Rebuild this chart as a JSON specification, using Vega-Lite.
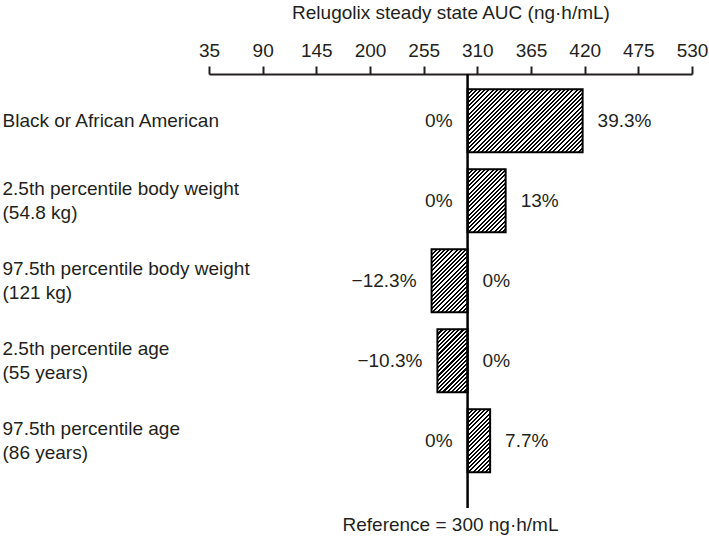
{
"$schema": "https://vega.github.io/schema/vega-lite/v6.json",
"width": 483, "height": 434,
"autosize": {"type": "none"},
"padding": {"left": 209, "top": 74, "right": 17, "bottom": 31},
"config": {"font": "Liberation Sans", "view": {"stroke": null}, "axis": {"grid": false}},
"title": {"text": "Reference = 300 ng·h/mL", "orient": "bottom", "anchor": "middle", "frame": "group", "fontSize": 19, "fontWeight": "normal", "color": "#231f20", "offset": 7},
"layer": [
{
"data": {"values": [
{"k":1,"row":"Black or African American","low":300,"high":417.9,"lowLabel":"0%","highLabel":"39.3%"},
{"k":2,"row":"2.5th percentile body weight|(54.8 kg)","low":300,"high":339,"lowLabel":"0%","highLabel":"13%"},
{"k":3,"row":"97.5th percentile body weight|(121 kg)","low":263.1,"high":300,"lowLabel":"−12.3%","highLabel":"0%"},
{"k":4,"row":"2.5th percentile age|(55 years)","low":269.1,"high":300,"lowLabel":"−10.3%","highLabel":"0%"},
{"k":5,"row":"97.5th percentile age|(86 years)","low":300,"high":323.1,"lowLabel":"0%","highLabel":"7.7%"}
]},
"encoding": {
"y": {"field":"row","type":"nominal","sort":null,"title":null,
"scale":{"paddingInner":0.2125,"paddingOuter":0.31875,"align":0.3},
"axis":{"orient":"left","domain":false,"ticks":false,"tickSize":0,"labelAlign":"left","labelPadding":207,"labelFontSize":19,"labelColor":"#231f20","labelLimit":400,"labelExpr":"split(datum.label,'|')","labelLineHeight":23.5,"labelBaseline":"middle",
"labelOffset":{"condition":{"test":"indexof(datum.label,'|')>=0","value":-11.75},"value":0}}},
"x": {"field":"low","type":"quantitative","title":"Relugolix steady state AUC (ng·h/mL)",
"scale":{"domain":[35,530],"nice":false,"zero":false},
"axis":{"orient":"top","values":[35,90,145,200,255,310,365,420,475,530],"domainWidth":2,"domainColor":"#231f20","tickColor":"#231f20","tickWidth":2,"tickSize":8,"labelFontSize":19,"labelColor":"#231f20","labelPadding":6,"labelFlush":false,"labelOverlap":false,"titleFontSize":19,"titleFontWeight":"normal","titleColor":"#231f20","titlePadding":19}}
},
"layer": [
{"mark":{"type":"bar","stroke":"#000","strokeWidth":2},
"encoding":{"x2":{"field":"high"},
"fill":{"condition":[
{"test":"datum.k==1","value":{"gradient":"linear","x1":0,"y1":0,"x2":1.4043,"y2":0.769,"stops":[
{"offset":0,"color":"#000"},{"offset":0.01,"color":"#000"},{"offset":0.01,"color":"#fff"},{"offset":0.02,"color":"#fff"},{"offset":0.02,"color":"#000"},{"offset":0.03,"color":"#000"},{"offset":0.03,"color":"#fff"},{"offset":0.04,"color":"#fff"},{"offset":0.04,"color":"#000"},{"offset":0.05,"color":"#000"},{"offset":0.05,"color":"#fff"},{"offset":0.06,"color":"#fff"},{"offset":0.06,"color":"#000"},{"offset":0.07,"color":"#000"},{"offset":0.07,"color":"#fff"},{"offset":0.08,"color":"#fff"},{"offset":0.08,"color":"#000"},{"offset":0.09,"color":"#000"},{"offset":0.09,"color":"#fff"},{"offset":0.1,"color":"#fff"},
{"offset":0.1,"color":"#000"},{"offset":0.11,"color":"#000"},{"offset":0.11,"color":"#fff"},{"offset":0.12,"color":"#fff"},{"offset":0.12,"color":"#000"},{"offset":0.13,"color":"#000"},{"offset":0.13,"color":"#fff"},{"offset":0.14,"color":"#fff"},{"offset":0.14,"color":"#000"},{"offset":0.15,"color":"#000"},{"offset":0.15,"color":"#fff"},{"offset":0.16,"color":"#fff"},{"offset":0.16,"color":"#000"},{"offset":0.17,"color":"#000"},{"offset":0.17,"color":"#fff"},{"offset":0.18,"color":"#fff"},{"offset":0.18,"color":"#000"},{"offset":0.19,"color":"#000"},{"offset":0.19,"color":"#fff"},{"offset":0.2,"color":"#fff"},
{"offset":0.2,"color":"#000"},{"offset":0.21,"color":"#000"},{"offset":0.21,"color":"#fff"},{"offset":0.22,"color":"#fff"},{"offset":0.22,"color":"#000"},{"offset":0.23,"color":"#000"},{"offset":0.23,"color":"#fff"},{"offset":0.24,"color":"#fff"},{"offset":0.24,"color":"#000"},{"offset":0.25,"color":"#000"},{"offset":0.25,"color":"#fff"},{"offset":0.26,"color":"#fff"},{"offset":0.26,"color":"#000"},{"offset":0.27,"color":"#000"},{"offset":0.27,"color":"#fff"},{"offset":0.28,"color":"#fff"},{"offset":0.28,"color":"#000"},{"offset":0.29,"color":"#000"},{"offset":0.29,"color":"#fff"},{"offset":0.3,"color":"#fff"},
{"offset":0.3,"color":"#000"},{"offset":0.31,"color":"#000"},{"offset":0.31,"color":"#fff"},{"offset":0.32,"color":"#fff"},{"offset":0.32,"color":"#000"},{"offset":0.33,"color":"#000"},{"offset":0.33,"color":"#fff"},{"offset":0.34,"color":"#fff"},{"offset":0.34,"color":"#000"},{"offset":0.35,"color":"#000"},{"offset":0.35,"color":"#fff"},{"offset":0.36,"color":"#fff"},{"offset":0.36,"color":"#000"},{"offset":0.37,"color":"#000"},{"offset":0.37,"color":"#fff"},{"offset":0.38,"color":"#fff"},{"offset":0.38,"color":"#000"},{"offset":0.39,"color":"#000"},{"offset":0.39,"color":"#fff"},{"offset":0.4,"color":"#fff"},
{"offset":0.4,"color":"#000"},{"offset":0.41,"color":"#000"},{"offset":0.41,"color":"#fff"},{"offset":0.42,"color":"#fff"},{"offset":0.42,"color":"#000"},{"offset":0.43,"color":"#000"},{"offset":0.43,"color":"#fff"},{"offset":0.44,"color":"#fff"},{"offset":0.44,"color":"#000"},{"offset":0.45,"color":"#000"},{"offset":0.45,"color":"#fff"},{"offset":0.46,"color":"#fff"},{"offset":0.46,"color":"#000"},{"offset":0.47,"color":"#000"},{"offset":0.47,"color":"#fff"},{"offset":0.48,"color":"#fff"},{"offset":0.48,"color":"#000"},{"offset":0.49,"color":"#000"},{"offset":0.49,"color":"#fff"},{"offset":0.5,"color":"#fff"},
{"offset":0.5,"color":"#000"},{"offset":0.51,"color":"#000"},{"offset":0.51,"color":"#fff"},{"offset":0.52,"color":"#fff"},{"offset":0.52,"color":"#000"},{"offset":0.53,"color":"#000"},{"offset":0.53,"color":"#fff"},{"offset":0.54,"color":"#fff"},{"offset":0.54,"color":"#000"},{"offset":0.55,"color":"#000"},{"offset":0.55,"color":"#fff"},{"offset":0.56,"color":"#fff"},{"offset":0.56,"color":"#000"},{"offset":0.57,"color":"#000"},{"offset":0.57,"color":"#fff"},{"offset":0.58,"color":"#fff"},{"offset":0.58,"color":"#000"},{"offset":0.59,"color":"#000"},{"offset":0.59,"color":"#fff"},{"offset":0.6,"color":"#fff"},
{"offset":0.6,"color":"#000"},{"offset":0.61,"color":"#000"},{"offset":0.61,"color":"#fff"},{"offset":0.62,"color":"#fff"},{"offset":0.62,"color":"#000"},{"offset":0.63,"color":"#000"},{"offset":0.63,"color":"#fff"},{"offset":0.64,"color":"#fff"},{"offset":0.64,"color":"#000"},{"offset":0.65,"color":"#000"},{"offset":0.65,"color":"#fff"},{"offset":0.66,"color":"#fff"},{"offset":0.66,"color":"#000"},{"offset":0.67,"color":"#000"},{"offset":0.67,"color":"#fff"},{"offset":0.68,"color":"#fff"},{"offset":0.68,"color":"#000"},{"offset":0.69,"color":"#000"},{"offset":0.69,"color":"#fff"},{"offset":0.7,"color":"#fff"},
{"offset":0.7,"color":"#000"},{"offset":0.71,"color":"#000"},{"offset":0.71,"color":"#fff"},{"offset":0.72,"color":"#fff"},{"offset":0.72,"color":"#000"},{"offset":0.73,"color":"#000"},{"offset":0.73,"color":"#fff"},{"offset":0.74,"color":"#fff"},{"offset":0.74,"color":"#000"},{"offset":0.75,"color":"#000"},{"offset":0.75,"color":"#fff"},{"offset":0.76,"color":"#fff"},{"offset":0.76,"color":"#000"},{"offset":0.77,"color":"#000"},{"offset":0.77,"color":"#fff"},{"offset":0.78,"color":"#fff"},{"offset":0.78,"color":"#000"},{"offset":0.79,"color":"#000"},{"offset":0.79,"color":"#fff"},{"offset":0.8,"color":"#fff"},
{"offset":0.8,"color":"#000"},{"offset":0.81,"color":"#000"},{"offset":0.81,"color":"#fff"},{"offset":0.82,"color":"#fff"},{"offset":0.82,"color":"#000"},{"offset":0.83,"color":"#000"},{"offset":0.83,"color":"#fff"},{"offset":0.84,"color":"#fff"},{"offset":0.84,"color":"#000"},{"offset":0.85,"color":"#000"},{"offset":0.85,"color":"#fff"},{"offset":0.86,"color":"#fff"}
]}},
{"test":"datum.k==2","value":{"gradient":"linear","x1":0,"y1":0,"x2":1.4751,"y2":2.4424,"stops":[
{"offset":0,"color":"#000"},{"offset":0.01,"color":"#000"},{"offset":0.01,"color":"#fff"},{"offset":0.02,"color":"#fff"},{"offset":0.02,"color":"#000"},{"offset":0.03,"color":"#000"},{"offset":0.03,"color":"#fff"},{"offset":0.04,"color":"#fff"},{"offset":0.04,"color":"#000"},{"offset":0.05,"color":"#000"},{"offset":0.05,"color":"#fff"},{"offset":0.06,"color":"#fff"},{"offset":0.06,"color":"#000"},{"offset":0.07,"color":"#000"},{"offset":0.07,"color":"#fff"},{"offset":0.08,"color":"#fff"},{"offset":0.08,"color":"#000"},{"offset":0.09,"color":"#000"},{"offset":0.09,"color":"#fff"},{"offset":0.1,"color":"#fff"},
{"offset":0.1,"color":"#000"},{"offset":0.11,"color":"#000"},{"offset":0.11,"color":"#fff"},{"offset":0.12,"color":"#fff"},{"offset":0.12,"color":"#000"},{"offset":0.13,"color":"#000"},{"offset":0.13,"color":"#fff"},{"offset":0.14,"color":"#fff"},{"offset":0.14,"color":"#000"},{"offset":0.15,"color":"#000"},{"offset":0.15,"color":"#fff"},{"offset":0.16,"color":"#fff"},{"offset":0.16,"color":"#000"},{"offset":0.17,"color":"#000"},{"offset":0.17,"color":"#fff"},{"offset":0.18,"color":"#fff"},{"offset":0.18,"color":"#000"},{"offset":0.19,"color":"#000"},{"offset":0.19,"color":"#fff"},{"offset":0.2,"color":"#fff"},
{"offset":0.2,"color":"#000"},{"offset":0.21,"color":"#000"},{"offset":0.21,"color":"#fff"},{"offset":0.22,"color":"#fff"},{"offset":0.22,"color":"#000"},{"offset":0.23,"color":"#000"},{"offset":0.23,"color":"#fff"},{"offset":0.24,"color":"#fff"},{"offset":0.24,"color":"#000"},{"offset":0.25,"color":"#000"},{"offset":0.25,"color":"#fff"},{"offset":0.26,"color":"#fff"},{"offset":0.26,"color":"#000"},{"offset":0.27,"color":"#000"},{"offset":0.27,"color":"#fff"},{"offset":0.28,"color":"#fff"},{"offset":0.28,"color":"#000"},{"offset":0.29,"color":"#000"},{"offset":0.29,"color":"#fff"},{"offset":0.3,"color":"#fff"},
{"offset":0.3,"color":"#000"},{"offset":0.31,"color":"#000"},{"offset":0.31,"color":"#fff"},{"offset":0.32,"color":"#fff"},{"offset":0.32,"color":"#000"},{"offset":0.33,"color":"#000"},{"offset":0.33,"color":"#fff"},{"offset":0.34,"color":"#fff"},{"offset":0.34,"color":"#000"},{"offset":0.35,"color":"#000"},{"offset":0.35,"color":"#fff"},{"offset":0.36,"color":"#fff"},{"offset":0.36,"color":"#000"},{"offset":0.37,"color":"#000"},{"offset":0.37,"color":"#fff"},{"offset":0.38,"color":"#fff"},{"offset":0.38,"color":"#000"},{"offset":0.39,"color":"#000"},{"offset":0.39,"color":"#fff"},{"offset":0.4,"color":"#fff"},
{"offset":0.4,"color":"#000"},{"offset":0.41,"color":"#000"},{"offset":0.41,"color":"#fff"},{"offset":0.42,"color":"#fff"},{"offset":0.42,"color":"#000"},{"offset":0.43,"color":"#000"},{"offset":0.43,"color":"#fff"},{"offset":0.44,"color":"#fff"},{"offset":0.44,"color":"#000"},{"offset":0.45,"color":"#000"},{"offset":0.45,"color":"#fff"},{"offset":0.46,"color":"#fff"},{"offset":0.46,"color":"#000"},{"offset":0.47,"color":"#000"},{"offset":0.47,"color":"#fff"},{"offset":0.48,"color":"#fff"},{"offset":0.48,"color":"#000"},{"offset":0.49,"color":"#000"},{"offset":0.49,"color":"#fff"},{"offset":0.5,"color":"#fff"}
]}},
{"test":"datum.k==3","value":{"gradient":"linear","x1":0,"y1":0,"x2":1.436,"y2":2.5126,"stops":[
{"offset":0,"color":"#000"},{"offset":0.01,"color":"#000"},{"offset":0.01,"color":"#fff"},{"offset":0.02,"color":"#fff"},{"offset":0.02,"color":"#000"},{"offset":0.03,"color":"#000"},{"offset":0.03,"color":"#fff"},{"offset":0.04,"color":"#fff"},{"offset":0.04,"color":"#000"},{"offset":0.05,"color":"#000"},{"offset":0.05,"color":"#fff"},{"offset":0.06,"color":"#fff"},{"offset":0.06,"color":"#000"},{"offset":0.07,"color":"#000"},{"offset":0.07,"color":"#fff"},{"offset":0.08,"color":"#fff"},{"offset":0.08,"color":"#000"},{"offset":0.09,"color":"#000"},{"offset":0.09,"color":"#fff"},{"offset":0.1,"color":"#fff"},
{"offset":0.1,"color":"#000"},{"offset":0.11,"color":"#000"},{"offset":0.11,"color":"#fff"},{"offset":0.12,"color":"#fff"},{"offset":0.12,"color":"#000"},{"offset":0.13,"color":"#000"},{"offset":0.13,"color":"#fff"},{"offset":0.14,"color":"#fff"},{"offset":0.14,"color":"#000"},{"offset":0.15,"color":"#000"},{"offset":0.15,"color":"#fff"},{"offset":0.16,"color":"#fff"},{"offset":0.16,"color":"#000"},{"offset":0.17,"color":"#000"},{"offset":0.17,"color":"#fff"},{"offset":0.18,"color":"#fff"},{"offset":0.18,"color":"#000"},{"offset":0.19,"color":"#000"},{"offset":0.19,"color":"#fff"},{"offset":0.2,"color":"#fff"},
{"offset":0.2,"color":"#000"},{"offset":0.21,"color":"#000"},{"offset":0.21,"color":"#fff"},{"offset":0.22,"color":"#fff"},{"offset":0.22,"color":"#000"},{"offset":0.23,"color":"#000"},{"offset":0.23,"color":"#fff"},{"offset":0.24,"color":"#fff"},{"offset":0.24,"color":"#000"},{"offset":0.25,"color":"#000"},{"offset":0.25,"color":"#fff"},{"offset":0.26,"color":"#fff"},{"offset":0.26,"color":"#000"},{"offset":0.27,"color":"#000"},{"offset":0.27,"color":"#fff"},{"offset":0.28,"color":"#fff"},{"offset":0.28,"color":"#000"},{"offset":0.29,"color":"#000"},{"offset":0.29,"color":"#fff"},{"offset":0.3,"color":"#fff"},
{"offset":0.3,"color":"#000"},{"offset":0.31,"color":"#000"},{"offset":0.31,"color":"#fff"},{"offset":0.32,"color":"#fff"},{"offset":0.32,"color":"#000"},{"offset":0.33,"color":"#000"},{"offset":0.33,"color":"#fff"},{"offset":0.34,"color":"#fff"},{"offset":0.34,"color":"#000"},{"offset":0.35,"color":"#000"},{"offset":0.35,"color":"#fff"},{"offset":0.36,"color":"#fff"},{"offset":0.36,"color":"#000"},{"offset":0.37,"color":"#000"},{"offset":0.37,"color":"#fff"},{"offset":0.38,"color":"#fff"},{"offset":0.38,"color":"#000"},{"offset":0.39,"color":"#000"},{"offset":0.39,"color":"#fff"},{"offset":0.4,"color":"#fff"},
{"offset":0.4,"color":"#000"},{"offset":0.41,"color":"#000"},{"offset":0.41,"color":"#fff"},{"offset":0.42,"color":"#fff"},{"offset":0.42,"color":"#000"},{"offset":0.43,"color":"#000"},{"offset":0.43,"color":"#fff"},{"offset":0.44,"color":"#fff"},{"offset":0.44,"color":"#000"},{"offset":0.45,"color":"#000"},{"offset":0.45,"color":"#fff"},{"offset":0.46,"color":"#fff"},{"offset":0.46,"color":"#000"},{"offset":0.47,"color":"#000"},{"offset":0.47,"color":"#fff"},{"offset":0.48,"color":"#fff"},{"offset":0.48,"color":"#000"},{"offset":0.49,"color":"#000"},{"offset":0.49,"color":"#fff"},{"offset":0.5,"color":"#fff"}
]}},
{"test":"datum.k==4","value":{"gradient":"linear","x1":0,"y1":0,"x2":1.298,"y2":2.7122,"stops":[
{"offset":0,"color":"#000"},{"offset":0.01,"color":"#000"},{"offset":0.01,"color":"#fff"},{"offset":0.02,"color":"#fff"},{"offset":0.02,"color":"#000"},{"offset":0.03,"color":"#000"},{"offset":0.03,"color":"#fff"},{"offset":0.04,"color":"#fff"},{"offset":0.04,"color":"#000"},{"offset":0.05,"color":"#000"},{"offset":0.05,"color":"#fff"},{"offset":0.06,"color":"#fff"},{"offset":0.06,"color":"#000"},{"offset":0.07,"color":"#000"},{"offset":0.07,"color":"#fff"},{"offset":0.08,"color":"#fff"},{"offset":0.08,"color":"#000"},{"offset":0.09,"color":"#000"},{"offset":0.09,"color":"#fff"},{"offset":0.1,"color":"#fff"},
{"offset":0.1,"color":"#000"},{"offset":0.11,"color":"#000"},{"offset":0.11,"color":"#fff"},{"offset":0.12,"color":"#fff"},{"offset":0.12,"color":"#000"},{"offset":0.13,"color":"#000"},{"offset":0.13,"color":"#fff"},{"offset":0.14,"color":"#fff"},{"offset":0.14,"color":"#000"},{"offset":0.15,"color":"#000"},{"offset":0.15,"color":"#fff"},{"offset":0.16,"color":"#fff"},{"offset":0.16,"color":"#000"},{"offset":0.17,"color":"#000"},{"offset":0.17,"color":"#fff"},{"offset":0.18,"color":"#fff"},{"offset":0.18,"color":"#000"},{"offset":0.19,"color":"#000"},{"offset":0.19,"color":"#fff"},{"offset":0.2,"color":"#fff"},
{"offset":0.2,"color":"#000"},{"offset":0.21,"color":"#000"},{"offset":0.21,"color":"#fff"},{"offset":0.22,"color":"#fff"},{"offset":0.22,"color":"#000"},{"offset":0.23,"color":"#000"},{"offset":0.23,"color":"#fff"},{"offset":0.24,"color":"#fff"},{"offset":0.24,"color":"#000"},{"offset":0.25,"color":"#000"},{"offset":0.25,"color":"#fff"},{"offset":0.26,"color":"#fff"},{"offset":0.26,"color":"#000"},{"offset":0.27,"color":"#000"},{"offset":0.27,"color":"#fff"},{"offset":0.28,"color":"#fff"},{"offset":0.28,"color":"#000"},{"offset":0.29,"color":"#000"},{"offset":0.29,"color":"#fff"},{"offset":0.3,"color":"#fff"},
{"offset":0.3,"color":"#000"},{"offset":0.31,"color":"#000"},{"offset":0.31,"color":"#fff"},{"offset":0.32,"color":"#fff"},{"offset":0.32,"color":"#000"},{"offset":0.33,"color":"#000"},{"offset":0.33,"color":"#fff"},{"offset":0.34,"color":"#fff"},{"offset":0.34,"color":"#000"},{"offset":0.35,"color":"#000"},{"offset":0.35,"color":"#fff"},{"offset":0.36,"color":"#fff"},{"offset":0.36,"color":"#000"},{"offset":0.37,"color":"#000"},{"offset":0.37,"color":"#fff"},{"offset":0.38,"color":"#fff"},{"offset":0.38,"color":"#000"},{"offset":0.39,"color":"#000"},{"offset":0.39,"color":"#fff"},{"offset":0.4,"color":"#fff"},
{"offset":0.4,"color":"#000"},{"offset":0.41,"color":"#000"},{"offset":0.41,"color":"#fff"},{"offset":0.42,"color":"#fff"},{"offset":0.42,"color":"#000"},{"offset":0.43,"color":"#000"},{"offset":0.43,"color":"#fff"},{"offset":0.44,"color":"#fff"},{"offset":0.44,"color":"#000"},{"offset":0.45,"color":"#000"},{"offset":0.45,"color":"#fff"},{"offset":0.46,"color":"#fff"},{"offset":0.46,"color":"#000"},{"offset":0.47,"color":"#000"},{"offset":0.47,"color":"#fff"},{"offset":0.48,"color":"#fff"},{"offset":0.48,"color":"#000"},{"offset":0.49,"color":"#000"},{"offset":0.49,"color":"#fff"},{"offset":0.5,"color":"#fff"}
]}},
{"test":"datum.k==5","value":{"gradient":"linear","x1":0,"y1":0,"x2":1.0573,"y2":2.9551,"stops":[
{"offset":0,"color":"#000"},{"offset":0.01,"color":"#000"},{"offset":0.01,"color":"#fff"},{"offset":0.02,"color":"#fff"},{"offset":0.02,"color":"#000"},{"offset":0.03,"color":"#000"},{"offset":0.03,"color":"#fff"},{"offset":0.04,"color":"#fff"},{"offset":0.04,"color":"#000"},{"offset":0.05,"color":"#000"},{"offset":0.05,"color":"#fff"},{"offset":0.06,"color":"#fff"},{"offset":0.06,"color":"#000"},{"offset":0.07,"color":"#000"},{"offset":0.07,"color":"#fff"},{"offset":0.08,"color":"#fff"},{"offset":0.08,"color":"#000"},{"offset":0.09,"color":"#000"},{"offset":0.09,"color":"#fff"},{"offset":0.1,"color":"#fff"},
{"offset":0.1,"color":"#000"},{"offset":0.11,"color":"#000"},{"offset":0.11,"color":"#fff"},{"offset":0.12,"color":"#fff"},{"offset":0.12,"color":"#000"},{"offset":0.13,"color":"#000"},{"offset":0.13,"color":"#fff"},{"offset":0.14,"color":"#fff"},{"offset":0.14,"color":"#000"},{"offset":0.15,"color":"#000"},{"offset":0.15,"color":"#fff"},{"offset":0.16,"color":"#fff"},{"offset":0.16,"color":"#000"},{"offset":0.17,"color":"#000"},{"offset":0.17,"color":"#fff"},{"offset":0.18,"color":"#fff"},{"offset":0.18,"color":"#000"},{"offset":0.19,"color":"#000"},{"offset":0.19,"color":"#fff"},{"offset":0.2,"color":"#fff"},
{"offset":0.2,"color":"#000"},{"offset":0.21,"color":"#000"},{"offset":0.21,"color":"#fff"},{"offset":0.22,"color":"#fff"},{"offset":0.22,"color":"#000"},{"offset":0.23,"color":"#000"},{"offset":0.23,"color":"#fff"},{"offset":0.24,"color":"#fff"},{"offset":0.24,"color":"#000"},{"offset":0.25,"color":"#000"},{"offset":0.25,"color":"#fff"},{"offset":0.26,"color":"#fff"},{"offset":0.26,"color":"#000"},{"offset":0.27,"color":"#000"},{"offset":0.27,"color":"#fff"},{"offset":0.28,"color":"#fff"},{"offset":0.28,"color":"#000"},{"offset":0.29,"color":"#000"},{"offset":0.29,"color":"#fff"},{"offset":0.3,"color":"#fff"},
{"offset":0.3,"color":"#000"},{"offset":0.31,"color":"#000"},{"offset":0.31,"color":"#fff"},{"offset":0.32,"color":"#fff"},{"offset":0.32,"color":"#000"},{"offset":0.33,"color":"#000"},{"offset":0.33,"color":"#fff"},{"offset":0.34,"color":"#fff"},{"offset":0.34,"color":"#000"},{"offset":0.35,"color":"#000"},{"offset":0.35,"color":"#fff"},{"offset":0.36,"color":"#fff"},{"offset":0.36,"color":"#000"},{"offset":0.37,"color":"#000"},{"offset":0.37,"color":"#fff"},{"offset":0.38,"color":"#fff"},{"offset":0.38,"color":"#000"},{"offset":0.39,"color":"#000"},{"offset":0.39,"color":"#fff"},{"offset":0.4,"color":"#fff"},
{"offset":0.4,"color":"#000"},{"offset":0.41,"color":"#000"},{"offset":0.41,"color":"#fff"},{"offset":0.42,"color":"#fff"},{"offset":0.42,"color":"#000"},{"offset":0.43,"color":"#000"},{"offset":0.43,"color":"#fff"},{"offset":0.44,"color":"#fff"},{"offset":0.44,"color":"#000"},{"offset":0.45,"color":"#000"},{"offset":0.45,"color":"#fff"},{"offset":0.46,"color":"#fff"},{"offset":0.46,"color":"#000"},{"offset":0.47,"color":"#000"},{"offset":0.47,"color":"#fff"},{"offset":0.48,"color":"#fff"},{"offset":0.48,"color":"#000"},{"offset":0.49,"color":"#000"},{"offset":0.49,"color":"#fff"},{"offset":0.5,"color":"#fff"}
]}}
],"value":"#888"}}},
{"mark":{"type":"text","align":"right","baseline":"middle","dx":-15,"fontSize":19,"color":"#231f20"},"encoding":{"text":{"field":"lowLabel"}}},
{"mark":{"type":"text","align":"left","baseline":"middle","dx":15,"fontSize":19,"color":"#231f20"},"encoding":{"x":{"field":"high","type":"quantitative","title":"Relugolix steady state AUC (ng·h/mL)"},"text":{"field":"highLabel"}}}
]
},
{"data":{"values":[{"ref":300}]},"mark":{"type":"rule","color":"#000","strokeWidth":2.5},"encoding":{"x":{"field":"ref","type":"quantitative","title":"Relugolix steady state AUC (ng·h/mL)"}}}
]
}
